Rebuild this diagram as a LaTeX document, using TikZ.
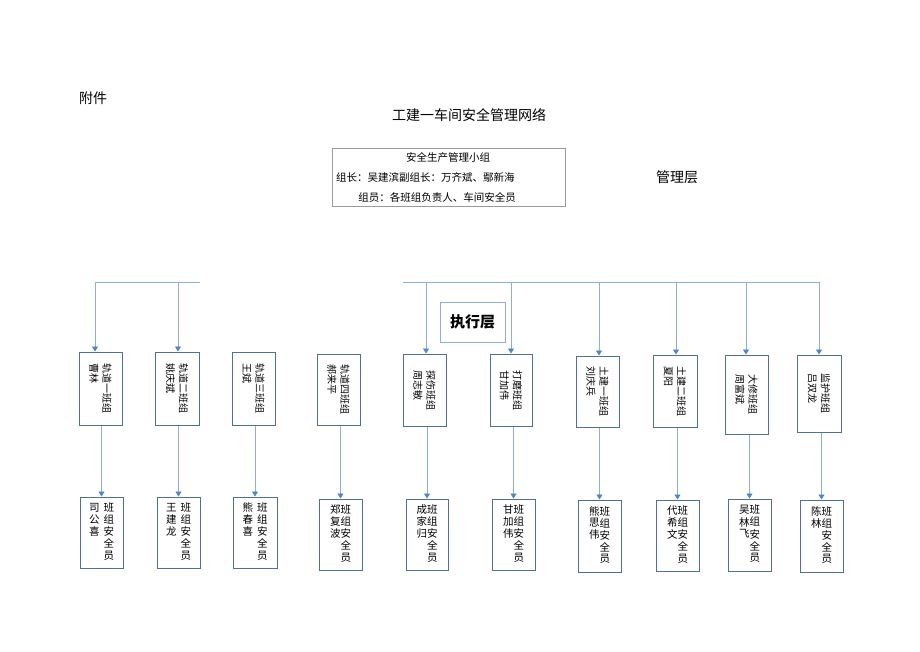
\documentclass[tikz,border=0pt]{standalone}
\usepackage{fontspec}
\setmainfont{Noto Sans CJK SC}
\usetikzlibrary{arrows.meta}
\definecolor{conn}{HTML}{8EAEDA}
\definecolor{tip}{HTML}{4A86C8}
\definecolor{boxc}{HTML}{4F6F98}
\definecolor{grayc}{HTML}{9A9A9A}
\newcommand\vcol[1]{\begin{tabular}[t]{@{}c@{}}#1\end{tabular}}
\tikzset{
  conn/.style={draw=conn, line width=0.8pt},
  arr/.style={conn, -{Triangle[width=6pt,length=5pt,color=tip]}},
  topbox/.style={draw=boxc, line width=1pt, fill=white, rotate=-90, align=left,
    font=\fontsize{10}{13}\selectfont, inner sep=0pt},
  botbox/.style={draw=boxc, line width=1pt, fill=white, inner sep=0pt,
    minimum width=43pt, minimum height=71pt,
    font=\fontsize{10.5}{10.6}\selectfont},
  lbl/.style={inner sep=0pt}
}
\begin{document}
\begin{tikzpicture}[x=1pt,y=-1pt]
\useasboundingbox[fill=white] (0,0) rectangle (920,651);
% headings
\node[lbl, font=\fontsize{14}{16}\selectfont] (fj) at (93,98) {附件};
\node[lbl, font=\fontsize{14}{16}\selectfont] (title) at (469,115) {工建一车间安全管理网络};
\node[lbl, font=\fontsize{14}{16}\selectfont] (glc) at (677,177) {管理层};
% management box
\node[draw=grayc, line width=1pt, minimum width=233pt, minimum height=58pt, inner sep=0pt] (mgmt) at (448.5,177) {};
\node[lbl, font=\fontsize{10.5}{12}\selectfont] (m1) at (448,157) {安全生产管理小组};
\node[lbl, anchor=west, font=\fontsize{10.5}{12}\selectfont] (m2) at (336,177) {组长：吴建滨副组长：万齐斌、鄢新海};
\node[lbl, font=\fontsize{10.5}{12}\selectfont] (m3) at (437,197) {组员：各班组负责人、车间安全员};
% execution label
\node[draw=conn, line width=1pt, minimum width=65pt, minimum height=40pt, font=\fontsize{15}{17}\selectfont\bfseries] (zxc) at (472.5,322) {执行层};
% top row boxes (rotated text)
\node[topbox, minimum width=73pt, minimum height=43pt] (t1) at (100.5,388.5) {轨道一班组\\曹林};
\node[topbox, minimum width=73pt, minimum height=44pt] (t2) at (177,388.5) {轨道二班组\\姚庆斌};
\node[topbox, minimum width=73pt, minimum height=43pt] (t3) at (253.5,388.5) {轨道三班组\\王斌};
\node[topbox, minimum width=71pt, minimum height=43pt] (t4) at (338.5,389.5) {轨道四班组\\郝来平};
\node[topbox, minimum width=72pt, minimum height=43pt] (t5) at (424.5,390) {探伤班组\\周志敏};
\node[topbox, minimum width=72pt, minimum height=42pt] (t6) at (511,390) {打磨班组\\甘加伟};
\node[topbox, minimum width=71pt, minimum height=43pt] (t7) at (597.5,391.5) {土建一班组\\刘庆兵};
\node[topbox, minimum width=72pt, minimum height=44pt] (t8) at (675,391) {土建二班组\\夏阳};
\node[topbox, minimum width=79pt, minimum height=43pt] (t9) at (746.5,394.5) {大修班组\\周富斌};
\node[topbox, minimum width=77pt, minimum height=44pt] (t10) at (819,393.5) {监护班组\\吕双龙};
% bottom row boxes
\node[botbox] (b1) at (101.5,532.5) {\vcol{司\\公\\喜}\hspace{4pt}\vcol{班\\组\\安\\全\\员}};
\node[botbox] (b2) at (178.5,532.5) {\vcol{王\\建\\龙}\hspace{4pt}\vcol{班\\组\\安\\全\\员}};
\node[botbox, minimum width=44pt] (b3) at (255,532.5) {\vcol{熊\\春\\喜}\hspace{4pt}\vcol{班\\组\\安\\全\\员}};
\node[botbox] (b4) at (340.5,534.5) {\vcol{郑\\复\\波}\vcol{班\\组\\安\\全\\员}};
\node[botbox, minimum width=42pt] (b5) at (427,534.5) {\vcol{成\\家\\归}\vcol{班\\组\\安\\全\\员}};
\node[botbox] (b6) at (513.5,534.5) {\vcol{甘\\加\\伟}\vcol{班\\组\\安\\全\\员}};
\node[botbox, minimum height=72pt] (b7) at (599.5,536) {\vcol{熊\\思\\伟}\vcol{班\\组\\安\\全\\员}};
\node[botbox] (b8) at (677.5,535.5) {\vcol{代\\希\\文}\vcol{班\\组\\安\\全\\员}};
\node[botbox, minimum height=72pt] (b9) at (749.5,535) {\vcol{吴\\林\\飞}\vcol{班\\组\\安\\全\\员}};
\node[botbox, minimum height=72pt] (b10) at (821.5,536) {\vcol{陈\\林}\vcol{班\\组\\安\\全\\员}};
% horizontal bus
\coordinate (hl1) at (95,282);
\coordinate (hl2) at (200,282);
\coordinate (hr1) at (403,282);
\coordinate (hr2) at (820,282);
\draw[conn] (hl1) -- (hl2);
\draw[conn] (hr1) -- (hr2);
\coordinate (c1) at (95,282);
\coordinate (c2) at (178,282);
\coordinate (c5) at (426,282);
\coordinate (c6) at (511,282);
\coordinate (c7) at (599,282);
\coordinate (c8) at (676,282);
\coordinate (c9) at (746,282);
\coordinate (c10) at (819,282);
\draw[arr] (c1) -- (c1 |- t1.west);
\draw[arr] (c2) -- (c2 |- t2.west);
\draw[arr] (c5) -- (c5 |- t5.west);
\draw[arr] (c6) -- (c6 |- t6.west);
\draw[arr] (c7) -- (c7 |- t7.west);
\draw[arr] (c8) -- (c8 |- t8.west);
\draw[arr] (c9) -- (c9 |- t9.west);
\draw[arr] (c10) -- (c10 |- t10.west);
% vertical links top -> bottom
\draw[arr] (t1.east -| b1.north) -- (b1.north);
\draw[arr] (t2.east -| b2.north) -- (b2.north);
\draw[arr] (t3.east -| b3.north) -- (b3.north);
\draw[arr] (t4.east -| b4.north) -- (b4.north);
\draw[arr] (t5.east -| b5.north) -- (b5.north);
\draw[arr] (t6.east -| b6.north) -- (b6.north);
\draw[arr] (t7.east -| b7.north) -- (b7.north);
\draw[arr] (t8.east -| b8.north) -- (b8.north);
\draw[arr] (t9.east -| b9.north) -- (b9.north);
\draw[arr] (t10.east -| b10.north) -- (b10.north);
\end{tikzpicture}
\end{document}
